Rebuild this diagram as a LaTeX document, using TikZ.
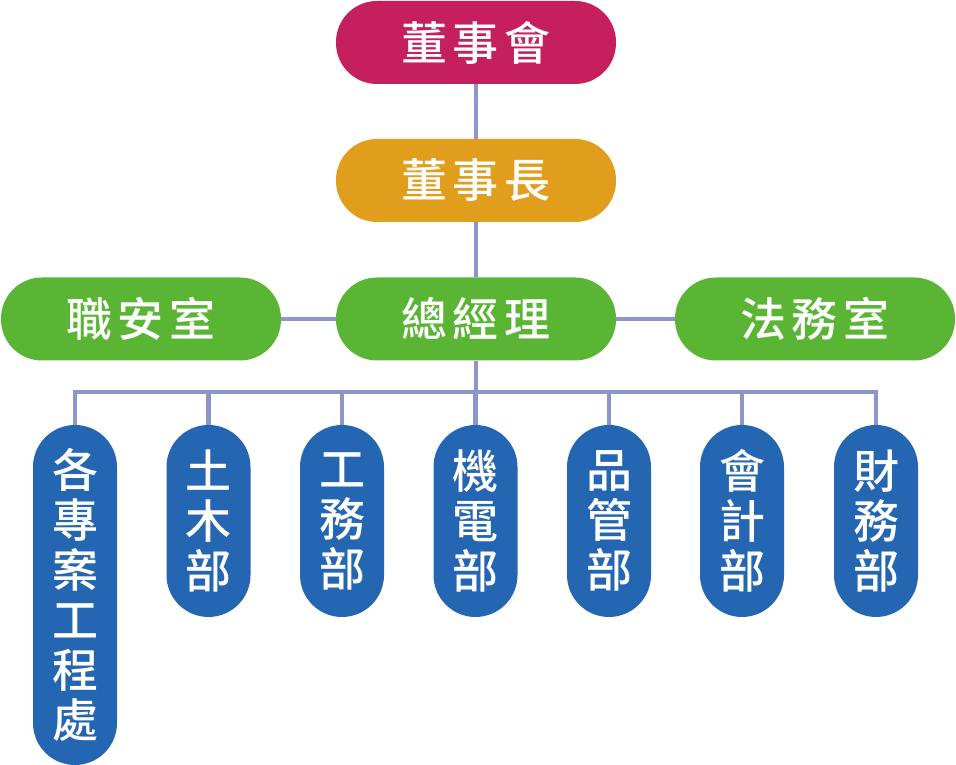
\documentclass[tikz,border=0pt]{standalone}
\usepackage{fontspec}
\newfontfamily\cjk[LetterSpace=11]{Noto Sans CJK TC Medium}
\newfontfamily\cjkv{Noto Sans CJK TC Medium}
\usetikzlibrary{positioning}
\definecolor{huired}{HTML}{C51F5D}
\definecolor{zhangorange}{HTML}{E09E1C}
\definecolor{mgrgreen}{HTML}{5AB535}
\definecolor{deptblue}{HTML}{2466B1}
\definecolor{linkblue}{HTML}{8C96CB}

\begin{document}
\begin{tikzpicture}[x=1pt,y=1pt,
	box/.style={rounded corners=41pt,minimum width=280pt,minimum height=83pt,text=white,font=\fontsize{46}{50}\selectfont\cjk},
	dept/.style={rounded corners=42pt,minimum width=84pt,fill=deptblue,text=white,align=center,inner sep=0pt,font=\fontsize{46}{50}\selectfont\cjkv},
	link/.style={draw=linkblue,line width=4.6pt}]
	\useasboundingbox (0,0) rectangle (956,765);

	\node[box,fill=huired]		(hui)	at	(476,722.5)	{董事會};
	\node[box,fill=zhangorange]	(zhang)	at	(476,584.5)	{董事長};
	\node[box,fill=mgrgreen]	(zjl)	at	(476,446)	{總經理};
	\node[box,fill=mgrgreen]	(zas)	at	(141,446)	{職安室};
	\node[box,fill=mgrgreen]	(fws)	at	(815,446)	{法務室};

	\node[dept,minimum height=340pt]	(d1)	at	(75,170)	{各\\專\\案\\工\\程\\處};
	\node[dept,minimum height=192pt]	(d2)	at	(208.5,244)	{土\\木\\部};
	\node[dept,minimum height=192pt]	(d3)	at	(342,244)	{工\\務\\部};
	\node[dept,minimum height=192pt]	(d4)	at	(475.5,244)	{機\\電\\部};
	\node[dept,minimum height=192pt]	(d5)	at	(609,244)	{品\\管\\部};
	\node[dept,minimum height=192pt]	(d6)	at	(742,244)	{會\\計\\部};
	\node[dept,minimum height=192pt]	(d7)	at	(876,244)	{財\\務\\部};

	\coordinate	(bus)	at	(476,373);

	\path[link]	(hui)	--	(zhang);
	\path[link]	(zhang)	--	(zjl);
	\path[link]	(zas)	--	(zjl);
	\path[link]	(zjl)	--	(fws);
	\path[link]	(zjl)	--	(bus);
	\path[link]	(d1.north)	|-	(bus);
	\path[link]	(d2.north)	|-	(bus);
	\path[link]	(d3.north)	|-	(bus);
	\path[link]	(d4.north)	|-	(bus);
	\path[link]	(d5.north)	|-	(bus);
	\path[link]	(d6.north)	|-	(bus);
	\path[link]	(d7.north)	|-	(bus);
\end{tikzpicture}
\end{document}
